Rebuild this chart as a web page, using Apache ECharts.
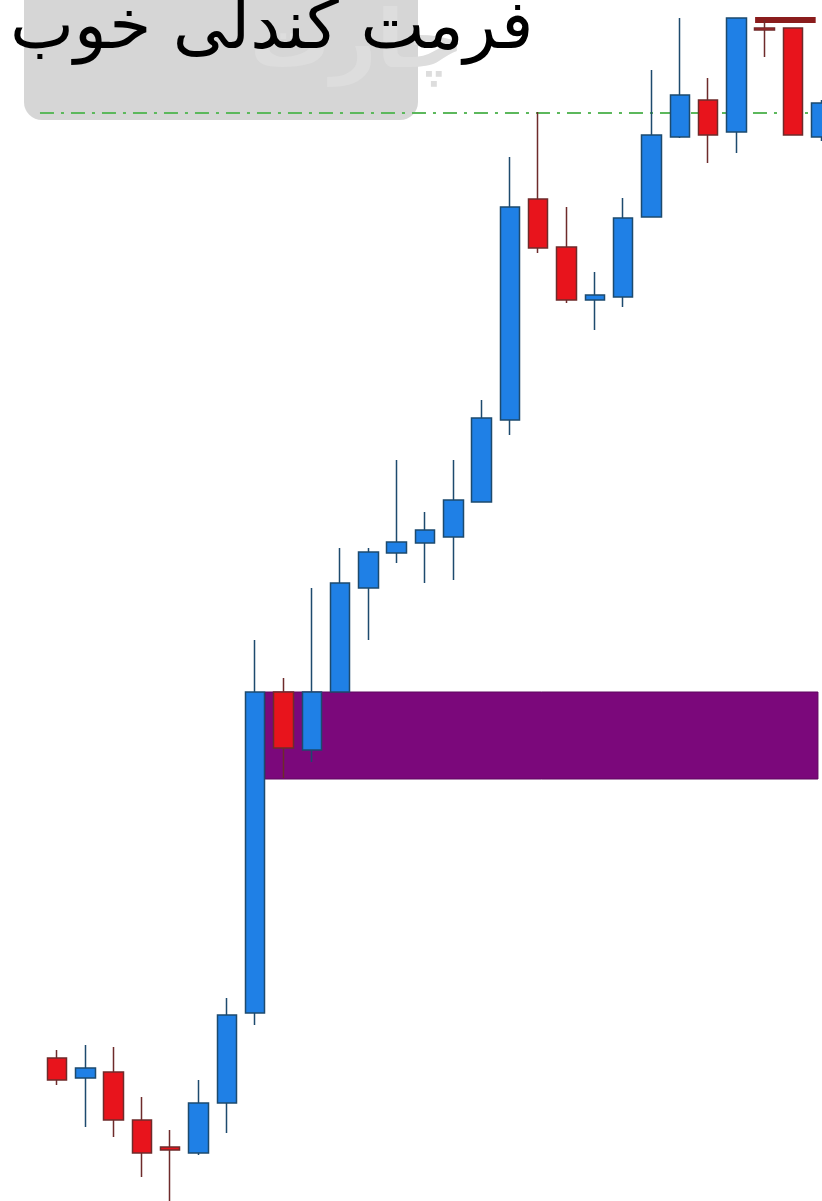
<!DOCTYPE html>
<html>
<head>
<meta charset="utf-8">
<script src="https://cdn.jsdelivr.net/npm/echarts@6/dist/echarts.min.js"></script>
<style>
html,body{margin:0;padding:0;background:#fff;}
#chart{width:822px;height:1201px;}
</style>
</head>
<body>
<div id="chart"></div>
<script>
// ---- data ----
const titleText = 'فرمت کندلی خوب';
const categories = ['1','2','3','4','5','6','7','8','9','10','11','12','13','14','15','16','17','18','19','20','21','22','23','24','25','26','27','28','29'];
const opens  = [null,114.3,112.3,112.9,108.1,105.4,104.8,109.8,118.8,150.9,145.1,150.9,161.3,164.8,165.8,166.4,169.9,178.1,200.2,195.4,190.1,190.4,198.4,206.4,210.1,206.9,217.3,217.3,206.4];
const closes = [null,112.1,113.3,108.1,104.8,105.1,109.8,118.6,150.9,145.3,150.9,161.8,164.9,165.9,167.1,170.1,178.3,199.4,195.3,190.1,190.6,198.3,206.6,210.6,206.6,218.3,217.1,206.6,209.8];
const lows   = [null,111.6,107.4,106.4,102.4,99.6,104.6,106.8,117.6,142.3,143.9,150.9,156.1,163.8,161.8,162.1,169.9,176.6,194.8,189.8,187.1,189.4,198.4,206.3,203.8,204.8,214.4,206.6,206.0];
const highs  = [null,115.1,115.6,115.4,110.4,107.1,112.1,120.3,156.1,152.3,161.3,165.3,165.3,174.1,168.9,174.1,180.1,204.4,208.9,199.4,192.9,200.3,213.1,218.3,212.3,218.3,218.1,217.3,210.1];
// supply/demand zone and levels (price units, zone x in candle index units)
const zoneTop = 150.9, zoneBottom = 142.2, zoneStart = 8.35, zoneEnd = 27.88;
const levelPrice = 208.8, levelStart = 0.4, levelEnd = 28.5;
const capPrice = 218.1, capStart = 25.66, capEnd = 27.8;

const candleData = categories.map((c, i) =>
  opens[i] == null ? '-' : [opens[i], closes[i], lows[i], highs[i]]);

const chart = echarts.init(document.getElementById('chart'), null, {renderer: 'canvas'});
chart.setOption({
  animation: false,
  backgroundColor: '#ffffff',
  grid: {left: 14.5, top: 0, width: 821, height: 1201, containLabel: false, outerBoundsMode: 'none'},
  xAxis: [
    {type: 'category', data: categories, show: false, boundaryGap: true},
    {type: 'value', min: -0.5, max: 28.5, show: false}
  ],
  yAxis: {type: 'value', min: 100, max: 220.1, show: false, scale: true},
  graphic: [
    {type: 'rect', left: 24, top: -20, z: 1, silent: true,
     shape: {width: 394, height: 140, r: 18},
     style: {fill: '#d6d6d6'}},
    {type: 'text', left: 250, top: 6, z: 2, silent: true,
     style: {text: 'چارت', fill: '#dddddd', font: 'bold 80px "DejaVu Sans"'}},
    {type: 'text', left: 10, top: -4, z: 100, silent: true,
     style: {text: titleText, fill: '#000000', font: '68px "DejaVu Sans"'}}
  ],
  series: [
    {
      type: 'line', xAxisIndex: 1, yAxisIndex: 0, z: 1,
      data: [[zoneStart, zoneTop], [zoneEnd, zoneTop]],
      symbol: 'none', lineStyle: {opacity: 0}, silent: true,
      markArea: {
        silent: true,
        itemStyle: {color: '#7b087b', borderColor: '#5e065e', borderWidth: 1},
        data: [[{coord: [zoneStart, zoneTop]}, {coord: [zoneEnd, zoneBottom]}]]
      },
      markLine: {
        silent: true, symbol: ['none', 'none'], label: {show: false},
        data: [
          [{coord: [levelStart, levelPrice], lineStyle: {color: '#5cb85c', width: 2, type: [14, 7, 3, 7]}},
           {coord: [levelEnd, levelPrice]}],
          [{coord: [capStart, capPrice], lineStyle: {color: '#8a1c1c', width: 6, type: 'solid'}},
           {coord: [capEnd, capPrice]}]
        ]
      }
    },
    {
      type: 'candlestick', xAxisIndex: 0, yAxisIndex: 0, z: 5,
      data: candleData,
      barWidth: 20,
      itemStyle: {
        color: '#1f80e6',
        color0: '#e8141c',
        borderColor: '#1d4a6e',
        borderColor0: '#6e2b2b',
        borderWidth: 1.5
      }
    }
  ]
});
</script>
</body>
</html>
